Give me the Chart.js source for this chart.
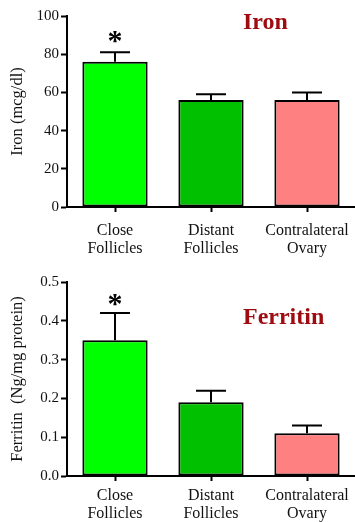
<!DOCTYPE html>
<html>
<head>
<meta charset="utf-8">
<script src="https://cdn.jsdelivr.net/npm/chart.js@4/dist/chart.umd.min.js"></script>
<style>
  body { margin: 0; background: #fff; }
  .panel { position: absolute; left: 0; width: 355px; }
  .panel canvas { display: block; }
  .panel-title {
    position: absolute;
    font: bold 24px 'Liberation Serif', 'Times New Roman', serif;
    line-height: 24px;
    color: #9e0b10;
    white-space: nowrap;
  }
</style>
</head>
<body>
<div class="panel" style="top:0;height:260px">
  <canvas id="iron-chart" width="355" height="260"></canvas>
  <div class="panel-title" style="left:243px;top:9px">Iron</div>
</div>
<div class="panel" style="top:260px;height:262px">
  <canvas id="ferritin-chart" width="355" height="262"></canvas>
  <div class="panel-title" style="left:243px;top:44px">Ferritin</div>
</div>
<script>
// Groups on the x axis
const groups = [['Close', 'Follicles'], ['Distant', 'Follicles'], ['Contralateral', 'Ovary']];
const barColors = ['#00ff00', '#00c000', '#ff8080'];

// Iron (mean and SEM)
const ironMean = [76, 56, 56];
const ironErr = [5, 3, 4];
const ironTicks = [0, 20, 40, 60, 80, 100];

// Ferritin (mean and SEM)
const ferritinMean = [0.35, 0.19, 0.11];
const ferritinErr = [0.07, 0.03, 0.02];
const ferritinTicks = [0, 0.1, 0.2, 0.3, 0.4, 0.5];

// Significance marks above each bar
const marks = ['*', '', ''];

const serif = "'Liberation Serif', 'Times New Roman', serif";

// Draws upper error bars and significance stars
const errorBarPlugin = {
  id: 'errorBars',
  afterDatasetsDraw(chart, args, opts) {
    const { ctx, scales: { y } } = chart;
    const meta = chart.getDatasetMeta(0);
    ctx.save();
    ctx.strokeStyle = '#000';
    ctx.lineWidth = 2;
    opts.mean.forEach((m, i) => {
      const cx = meta.data[i].x;
      const yTop = y.getPixelForValue(m + opts.err[i]);
      const yBar = y.getPixelForValue(m);
      ctx.beginPath();
      ctx.moveTo(cx, yBar);
      ctx.lineTo(cx, yTop);
      ctx.moveTo(cx - 15, yTop);
      ctx.lineTo(cx + 15, yTop);
      ctx.stroke();
      if (opts.marks[i]) {
        ctx.font = 'bold 30px ' + serif;
        ctx.fillStyle = '#000';
        ctx.textAlign = 'center';
        ctx.textBaseline = 'alphabetic';
        const tm = ctx.measureText(opts.marks[i]);
        const cy = yTop - opts.markGap;
        const base = cy + (tm.actualBoundingBoxAscent - tm.actualBoundingBoxDescent) / 2;
        ctx.fillText(opts.marks[i], cx, base);
      }
    });
    ctx.restore();
  }
};

function makeChart(id, mean, err, ticks, yTitle, decimals, layout) {
  const ctx = document.getElementById(id);
  return new Chart(ctx, {
    type: 'bar',
    data: {
      labels: groups,
      datasets: [{
        data: mean,
        backgroundColor: barColors,
        borderColor: '#000',
        borderWidth: 2,
        borderSkipped: false,
        categoryPercentage: 1,
        barPercentage: 0.68
      }]
    },
    options: {
      responsive: false,
      animation: false,
      layout: { padding: { top: layout.top, left: 0, right: 0, bottom: 0 } },
      plugins: {
        legend: { display: false },
        tooltip: { enabled: false },
        errorBars: { mean: mean, err: err, marks: marks, markGap: layout.markGap }
      },
      scales: {
        x: {
          // the x axis runs to the right edge; labels may overhang
          afterFit: (scale) => {
            scale.height = layout.xHeight;
            scale.paddingLeft = 0;
            scale.paddingRight = 0;
          },
          grid: {
            display: true,
            drawOnChartArea: false,
            offset: false,
            tickLength: 5,
            tickColor: '#000',
            tickWidth: 2
          },
          border: { display: true, color: '#000', width: 2 },
          ticks: {
            color: '#111',
            padding: layout.labelPad,
            maxRotation: 0,
            font: { family: serif, size: 16, lineHeight: '18px' }
          }
        },
        y: {
          min: ticks[0],
          max: ticks[ticks.length - 1],
          afterFit: (scale) => { scale.width = 67; },
          afterBuildTicks: (scale) => { scale.ticks = ticks.map(v => ({ value: v })); },
          grid: {
            display: true,
            drawOnChartArea: false,
            tickLength: 6,
            tickColor: '#000',
            tickWidth: 2
          },
          border: { display: true, color: '#000', width: 2 },
          ticks: {
            color: '#111',
            padding: 2,
            font: { family: serif, size: 15 },
            callback: (v) => v.toFixed(decimals)
          },
          title: {
            display: true,
            text: yTitle,
            color: '#111',
            padding: { top: 8, bottom: 0 },
            font: { family: serif, size: 16.5 }
          }
        }
      }
    },
    plugins: [errorBarPlugin]
  });
}

makeChart('iron-chart', ironMean, ironErr, ironTicks, 'Iron (mcg/dl)', 0,
  { top: 16, xHeight: 53, labelPad: 10, markGap: 15 });
makeChart('ferritin-chart', ferritinMean, ferritinErr, ferritinTicks, 'Ferritin  (Ng/mg protein)', 1,
  { top: 22, xHeight: 46, labelPad: 6, markGap: 13 });
</script>
</body>
</html>
